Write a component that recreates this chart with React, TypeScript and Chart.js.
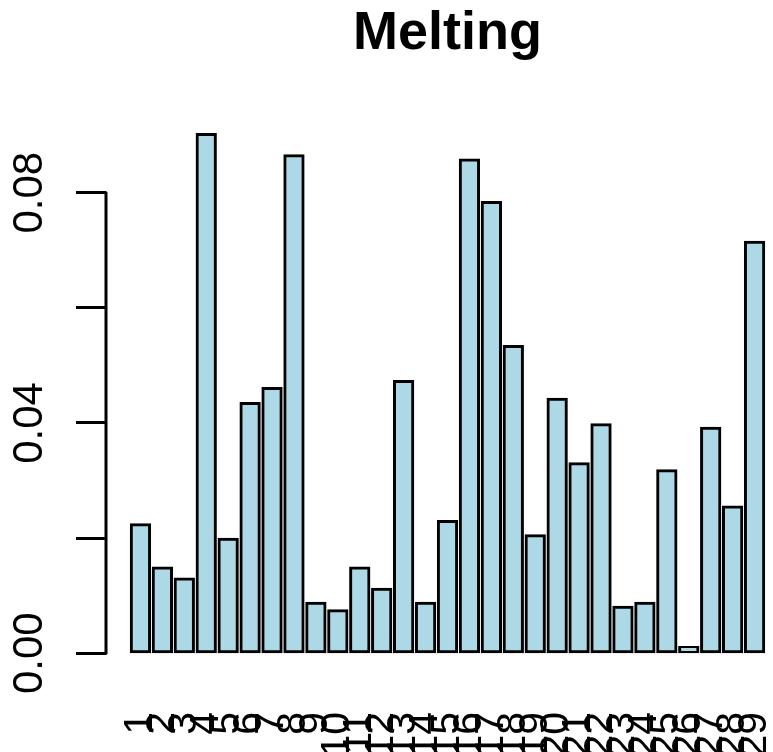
import React, { useEffect, useRef } from "react";
import { Chart, registerables } from "chart.js";

Chart.register(...registerables);

const titleText = "Melting";
const categories = [
  "1", "2", "3", "4", "5", "6", "7", "8", "9", "10",
  "11", "12", "13", "14", "15", "16", "17", "18", "19", "20",
  "21", "22", "23", "24", "25", "26", "27", "28", "29",
];
const values = [
  0.0223, 0.0148, 0.0129, 0.0901, 0.0198, 0.0434, 0.0460, 0.0864, 0.0087, 0.0074,
  0.0148, 0.0111, 0.0472, 0.0087, 0.0229, 0.0857, 0.0783, 0.0533, 0.0204, 0.0441,
  0.0329, 0.0397, 0.0080, 0.0087, 0.0317, 0.0010, 0.0391, 0.0254, 0.0714,
];
const yTickValues = [0, 0.02, 0.04, 0.06, 0.08];
const yTickLabels = ["0.00", "", "0.04", "", "0.08"];

// R barplot geometry: bar width 1, space 0.2, axis ranges extended by 4%
const BAR_W = 1;
const SPACE = 0.2;
const mid = (i: number) => SPACE + BAR_W / 2 + i * (BAR_W + SPACE);
const xLo = SPACE;
const xHi = categories.length * (BAR_W + SPACE);
const xPad = 0.04 * (xHi - xLo);
const yTop = Math.max(...values);
const yPad = 0.04 * yTop;

const FONT = "'Liberation Sans', Arial, Helvetica, sans-serif";

const yAxisLine = {
  id: "yAxisLine",
  afterDraw(chart: any) {
    const y = chart.scales.y;
    const ctx = chart.ctx;
    const x = chart.chartArea.left;
    ctx.save();
    ctx.strokeStyle = "#000";
    ctx.lineWidth = 3;
    ctx.lineCap = "round";
    ctx.beginPath();
    ctx.moveTo(x, y.getPixelForValue(yTickValues[0]));
    ctx.lineTo(x, y.getPixelForValue(yTickValues[yTickValues.length - 1]));
    ctx.stroke();
    ctx.restore();
  },
};

export default function App() {
  const ref = useRef<HTMLCanvasElement | null>(null);

  useEffect(() => {
    if (!ref.current) return;
    Chart.defaults.font.family = FONT;
    const chart = new Chart(ref.current, {
      type: "bar",
      data: {
        datasets: [
          {
            data: values.map((v, i) => ({ x: mid(i), y: v })),
            backgroundColor: "#ADD8E6",
            borderColor: "#000000",
            borderWidth: 3,
            borderSkipped: false,
            inflateAmount: 1.5,
            barPercentage: BAR_W / (BAR_W + SPACE),
            categoryPercentage: 1,
          },
        ],
      },
      options: {
        responsive: false,
        animation: false,
        devicePixelRatio: 1,
        layout: { padding: 0 },
        plugins: {
          legend: { display: false },
          tooltip: { enabled: false },
          title: {
            display: true,
            text: titleText,
            fullSize: false,
            color: "#000",
            font: { family: FONT, size: 54, weight: "bold" },
            padding: { top: 2, bottom: 47 },
          },
        },
        scales: {
          x: {
            type: "linear",
            position: "bottom",
            offset: false,
            min: xLo - xPad,
            max: xHi + xPad,
            afterBuildTicks: (scale: any) => {
              scale.ticks = categories.map((_, i) => ({ value: mid(i) }));
            },
            afterFit: (scale: any) => {
              scale.height = 78;
              scale.paddingLeft = 0;
              scale.paddingRight = 0;
            },
            ticks: {
              callback: (_v: any, i: number) => categories[i],
              autoSkip: false,
              minRotation: 90,
              maxRotation: 90,
              color: "#000",
              padding: 38,
              font: { family: FONT, size: 41 },
            },
            grid: { display: false, drawTicks: false, offset: false },
            border: { display: false },
          },
          y: {
            type: "linear",
            position: "left",
            min: -yPad,
            max: yTop + yPad,
            afterBuildTicks: (scale: any) => {
              scale.ticks = yTickValues.map((v) => ({ value: v }));
            },
            afterFit: (scale: any) => {
              scale.width = 106;
              scale.paddingTop = 0;
              scale.paddingBottom = 0;
            },
            ticks: {
              callback: (_v: any, i: number) => yTickLabels[i],
              autoSkip: false,
              minRotation: 90,
              maxRotation: 90,
              crossAlign: "center",
              color: "#000",
              padding: 5,
              font: { family: FONT, size: 42 },
            },
            grid: {
              display: true,
              drawOnChartArea: false,
              drawTicks: true,
              tickLength: 30,
              color: "#000",
              lineWidth: 3,
            },
            border: { display: false },
          },
        },
      },
      plugins: [yAxisLine],
    } as any);
    return () => chart.destroy();
  }, []);

  return (
    <div
      style={{
        position: "fixed",
        left: 0,
        top: 0,
        width: 773,
        height: 752,
        overflow: "hidden",
        background: "#fff",
      }}
    >
      <canvas ref={ref} width={789} height={752} style={{ display: "block" }} />
    </div>
  );
}
